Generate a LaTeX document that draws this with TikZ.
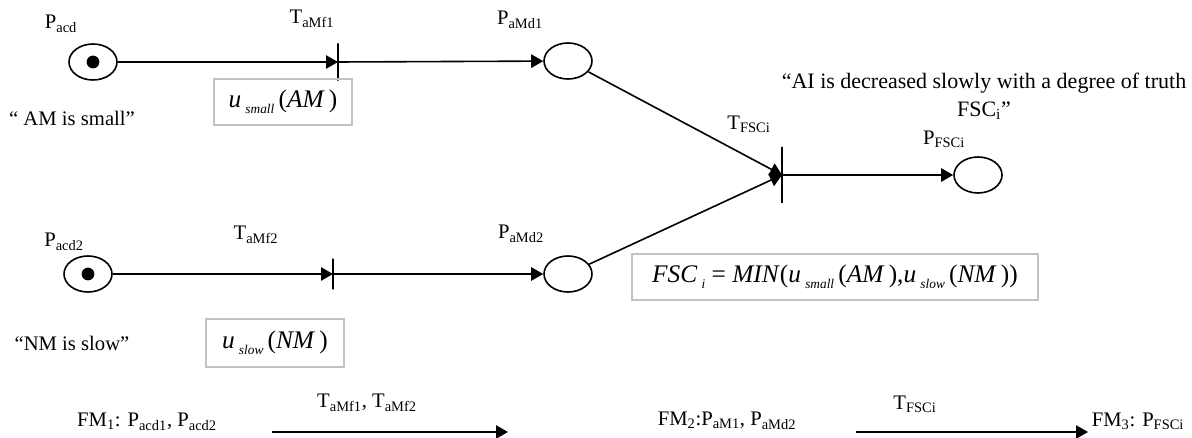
\documentclass[tikz,border=0pt]{standalone}
\usepackage{fontspec}
\setmainfont{Liberation Serif}
\usetikzlibrary{arrows.meta, shapes, positioning}
\definecolor{boxgray}{rgb}{0.76,0.76,0.76}
\newcommand{\isub}[1]{\raisebox{-0.5ex}{\fontsize{10}{10}\selectfont\textit{#1}}}

\begin{document}
\begin{tikzpicture}[x=0.75pt,y=-0.75pt,
    place/.style={draw,ellipse,line width=1.2pt,minimum width=36pt,minimum height=27pt,inner sep=0pt},
    trans/.style={draw,rectangle,line width=1.2pt,minimum width=0pt,minimum height=28pt,inner sep=0pt,outer sep=0pt},
    lbl/.style={inner sep=1pt,font=\fontsize{15.5}{18}\selectfont},
    fuzzybox/.style={draw=boxgray,line width=1.4pt,inner sep=4pt,font=\fontsize{19}{22}\selectfont},
    flow/.style={line width=1.2pt,-{Triangle[length=9pt,width=10pt]}}]
        \useasboundingbox (0,0) rectangle (1192,438);
        % places and transitions
        \draw (93,62) node[place] (p_acd){};
        \draw (88,274) node[place] (p_acd2){};
        \draw (568,61) node[place] (p_amd1){};
        \draw (568,274) node[place] (p_amd2){};
        \draw (978,175) node[place] (p_fsci){};
        \draw (338,62) node[trans] (t_amf1){};
        \draw (333,274) node[trans,minimum height=23pt] (t_amf2){};
        \draw (782,175) node[trans,minimum height=42pt] (t_fsci){};
        \fill (p_acd.center) circle (4.8pt);
        \fill (p_acd2.center) circle (4.8pt);
        % arcs
        \draw[flow] (p_acd) -- (t_amf1.center);
        \draw[flow] (t_amf1.center) -- (p_amd1);
        \draw[flow] (p_acd2) -- (t_amf2.center);
        \draw[flow] (t_amf2.center) -- (p_amd2);
        \draw[flow] (p_amd1) -- (t_fsci.center);
        \draw[flow] (p_amd2) -- (t_fsci.center);
        \draw[flow] (t_fsci.center) -- (p_fsci);
        % labels
        \draw (61,24) node[lbl] (l_acd){P\textsubscript{acd}};
        \draw (312,19) node[lbl] (l_amf1){T\textsubscript{aMf1}};
        \draw (520,20) node[lbl] (l_amd1){P\textsubscript{aMd1}};
        \draw (749,124) node[lbl] (l_tfsci){T\textsubscript{FSCi}};
        \draw (944,139) node[lbl] (l_pfsci){P\textsubscript{FSCi}};
        \draw (64,242) node[lbl] (l_acd2){P\textsubscript{acd2}};
        \draw (256,235) node[lbl] (l_amf2){T\textsubscript{aMf2}};
        \draw (521,234) node[lbl] (l_amd2){P\textsubscript{aMd2}};
        \draw (72,118) node[lbl] (q_am){`` AM is small''};
        \draw (72,343) node[lbl] (q_nm){``NM is slow''};
        \draw (984,96) node[lbl,font=\fontsize{16.5}{21}\selectfont,align=center] (q_ai){``AI is decreased slowly with a degree of truth\\FSC\textsubscript{i}''};
        % membership boxes
        \draw (283,102) node[fuzzybox,minimum width=104pt,minimum height=34pt] (b_small){\textit{u}\,\isub{small}\,(\textit{AM}\,)};
        \draw (275,343) node[fuzzybox,minimum width=104pt,minimum height=36pt] (b_slow){\textit{u}\,\isub{slow}\,(\textit{NM}\,)};
        \draw (835,277) node[fuzzybox,minimum width=305pt,minimum height=34pt] (b_min){\textit{FSC}\,\isub{i} = \textit{MIN}(\textit{u}\,\isub{small}\,(\textit{AM}\,),\textit{u}\,\isub{slow}\,(\textit{NM}\,))};
        % marking sequence
        \draw (147,422) node[lbl] (fm1){FM\textsubscript{1}: P\textsubscript{acd1}, P\textsubscript{acd2}};
        \draw (727,421) node[lbl] (fm2){FM\textsubscript{2}:P\textsubscript{aM1}, P\textsubscript{aMd2}};
        \draw (1138,421) node[lbl] (fm3){FM\textsubscript{3}: P\textsubscript{FSCi}};
        \draw (367,403) node[lbl] (l_step1){T\textsubscript{aMf1}, T\textsubscript{aMf2}};
        \draw (915,404) node[lbl] (l_step2){T\textsubscript{FSCi}};
        \coordinate (s1a) at (272,432);
        \coordinate (s1b) at (508,432);
        \coordinate (s2a) at (856,432);
        \coordinate (s2b) at (1088,432);
        \draw[flow] (s1a) -- (s1b);
        \draw[flow] (s2a) -- (s2b);
\end{tikzpicture}
\end{document}
